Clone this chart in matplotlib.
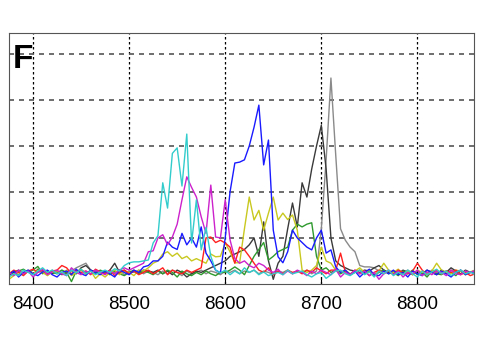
import numpy as np
import matplotlib
matplotlib.use('Agg')
import matplotlib.pyplot as plt

plt.rcParams['font.family'] = ['Liberation Sans', 'DejaVu Sans']

# eje x: paso de 5 unidades (8375 .. 8860)
x = np.arange(8375, 8861, 5)

cian = [0.15, 0.22, 0.18, 0.30, 0.25, 0.20, 0.28, 0.35, 0.25, 0.30,
        0.22, 0.26, 0.18, 0.30, 0.24, 0.32, 0.22, 0.28, 0.20, 0.26,
        0.30, 0.25, 0.33, 0.28, 0.40, 0.46, 0.48, 0.48, 0.50, 0.52,
        0.89, 1.05, 2.20, 1.65, 2.84, 2.96, 2.13, 3.26, 0.89, 1.83,
        0.74, 1.23, 0.60, 0.30, 0.24, 0.30, 0.20, 0.28, 0.22, 0.35,
        0.25, 0.30, 0.20, 0.26, 0.18, 0.22, 0.25, 0.20, 0.30, 0.22,
        0.25, 0.28, 0.20, 0.15, 0.22, 0.25, 0.12, 0.20, 0.28, 0.30,
        0.22, 0.18, 0.25, 0.30, 0.20, 0.26, 0.15, 0.28, 0.22, 0.30,
        0.18, 0.25, 0.20, 0.30, 0.22, 0.15, 0.28, 0.20, 0.26, 0.32,
        0.22, 0.28, 0.18, 0.25, 0.30, 0.22, 0.26, 0.20]

magenta = [0.25, 0.18, 0.30, 0.22, 0.28, 0.15, 0.25, 0.32, 0.20, 0.26,
           0.30, 0.22, 0.18, 0.35, 0.25, 0.20, 0.28, 0.22, 0.30, 0.25,
           0.20, 0.28, 0.22, 0.30, 0.35, 0.30, 0.35, 0.40, 0.45, 0.70,
           0.72, 1.00, 1.07, 0.85, 1.02, 1.30, 1.83, 2.33, 2.10, 1.89,
           1.46, 1.10, 2.15, 1.02, 1.00, 1.83, 0.96, 0.55, 0.45, 0.50,
           0.40, 0.35, 0.45, 0.40, 0.30, 0.25, 0.32, 0.20, 0.28, 0.22,
           0.30, 0.25, 0.18, 0.28, 0.22, 0.30, 0.25, 0.20, 0.32, 0.15,
           0.25, 0.20, 0.30, 0.22, 0.28, 0.18, 0.25, 0.10, 0.22, 0.30,
           0.20, 0.28, 0.15, 0.25, 0.22, 0.30, 0.18, 0.26, 0.20, 0.28,
           0.25, 0.18, 0.30, 0.22, 0.20, 0.28, 0.24, 0.30]

azul = [0.20, 0.28, 0.15, 0.25, 0.30, 0.22, 0.18, 0.26, 0.30, 0.20,
        0.15, 0.25, 0.28, 0.20, 0.32, 0.22, 0.18, 0.30, 0.25, 0.20,
        0.28, 0.22, 0.15, 0.30, 0.25, 0.20, 0.30, 0.25, 0.37, 0.40,
        0.50, 0.50, 0.60, 0.91, 0.80, 0.75, 1.10, 0.85, 1.00, 0.80,
        1.24, 0.67, 0.50, 0.30, 0.24, 1.00, 2.00, 2.63, 2.65, 2.70,
        3.00, 3.41, 3.89, 2.59, 3.13, 1.17, 0.59, 0.46, 0.70, 1.17,
        1.00, 0.90, 0.80, 0.74, 1.00, 1.17, 0.67, 0.74, 0.37, 0.25,
        0.30, 0.20, 0.28, 0.15, 0.25, 0.32, 0.20, 0.18, 0.28, 0.22,
        0.30, 0.20, 0.25, 0.15, 0.28, 0.22, 0.18, 0.30, 0.25, 0.20,
        0.28, 0.22, 0.15, 0.25, 0.30, 0.20, 0.26, 0.22]

amarillo = [0.10, 0.18, 0.25, 0.20, 0.28, 0.22, 0.30, 0.25, 0.18, 0.26,
            0.28, 0.22, 0.30, 0.18, 0.25, 0.32, 0.20, 0.28, 0.12, 0.22,
            0.15, 0.25, 0.30, 0.20, 0.28, 0.25, 0.18, 0.30, 0.28, 0.35,
            0.45, 0.50, 0.65, 0.70, 0.60, 0.67, 0.55, 0.60, 0.50, 0.55,
            0.50, 0.45, 0.65, 0.59, 0.60, 0.89, 0.70, 0.46, 0.46, 1.20,
            1.89, 1.39, 1.60, 1.17, 1.54, 1.89, 1.39, 1.54, 1.40, 1.50,
            1.17, 0.30, 0.25, 0.30, 0.40, 0.80, 0.50, 0.45, 0.30, 0.25,
            0.30, 0.22, 0.28, 0.35, 0.25, 0.30, 0.20, 0.28, 0.45, 0.30,
            0.25, 0.32, 0.22, 0.28, 0.20, 0.30, 0.25, 0.22, 0.28, 0.45,
            0.30, 0.25, 0.22, 0.30, 0.28, 0.20, 0.26, 0.30]

rojo = [0.22, 0.30, 0.25, 0.18, 0.28, 0.32, 0.25, 0.30, 0.22, 0.28,
        0.30, 0.40, 0.35, 0.22, 0.30, 0.25, 0.28, 0.20, 0.32, 0.26,
        0.22, 0.30, 0.18, 0.25, 0.30, 0.22, 0.28, 0.20, 0.25, 0.30,
        0.22, 0.28, 0.35, 0.20, 0.30, 0.25, 0.22, 0.30, 0.25, 0.30,
        0.35, 1.00, 1.02, 0.90, 0.95, 0.89, 0.80, 0.45, 0.80, 0.74,
        0.60, 0.45, 0.30, 0.25, 0.35, 0.20, 0.28, 0.22, 0.30, 0.25,
        0.28, 0.22, 0.30, 0.25, 0.35, 0.28, 0.22, 0.30, 0.30, 0.67,
        0.25, 0.20, 0.30, 0.22, 0.28, 0.18, 0.25, 0.30, 0.22, 0.28,
        0.20, 0.30, 0.25, 0.22, 0.28, 0.45, 0.30, 0.20, 0.25, 0.30,
        0.22, 0.28, 0.25, 0.30, 0.20, 0.25, 0.18, 0.22]

verde = [0.25, 0.20, 0.28, 0.32, 0.25, 0.30, 0.38, 0.22, 0.28, 0.25,
         0.22, 0.30, 0.25, 0.05, 0.28, 0.30, 0.25, 0.28, 0.22, 0.30,
         0.25, 0.20, 0.28, 0.22, 0.18, 0.25, 0.30, 0.22, 0.28, 0.25,
         0.20, 0.28, 0.22, 0.30, 0.25, 0.15, 0.28, 0.22, 0.18, 0.25,
         0.20, 0.28, 0.22, 0.18, 0.25, 0.25, 0.30, 0.37, 0.30, 0.20,
         0.40, 0.60, 0.75, 0.90, 0.52, 0.60, 0.70, 0.75, 0.80, 1.17,
         1.30, 1.24, 1.30, 1.33, 0.60, 0.30, 0.35, 0.25, 0.30, 0.22,
         0.28, 0.20, 0.25, 0.30, 0.22, 0.28, 0.18, 0.25, 0.30, 0.22,
         0.25, 0.18, 0.28, 0.22, 0.30, 0.20, 0.25, 0.15, 0.28, 0.22,
         0.20, 0.28, 0.25, 0.18, 0.30, 0.22, 0.25, 0.28]

negro = [0.18, 0.25, 0.30, 0.22, 0.28, 0.20, 0.32, 0.25, 0.28, 0.22,
         0.28, 0.20, 0.25, 0.30, 0.22, 0.35, 0.40, 0.30, 0.25, 0.28,
         0.22, 0.30, 0.45, 0.25, 0.30, 0.22, 0.28, 0.25, 0.30, 0.28,
         0.25, 0.30, 0.22, 0.28, 0.20, 0.30, 0.25, 0.15, 0.22, 0.28,
         0.25, 0.30, 0.35, 0.40, 0.45, 0.50, 0.60, 0.65, 0.70, 0.75,
         0.85, 1.00, 0.60, 1.35, 0.50, 0.10, 0.45, 0.60, 1.20, 1.76,
         1.24, 2.20, 1.89, 2.50, 3.00, 3.45, 2.50, 1.00, 0.50, 0.40,
         0.35, 0.30, 0.28, 0.25, 0.30, 0.28, 0.35, 0.40, 0.30, 0.25,
         0.28, 0.22, 0.30, 0.25, 0.20, 0.28, 0.22, 0.30, 0.25, 0.20,
         0.30, 0.25, 0.35, 0.28, 0.22, 0.30, 0.25, 0.28]

gris = [0.22, 0.28, 0.20, 0.25, 0.30, 0.22, 0.28, 0.25, 0.20, 0.30,
        0.25, 0.30, 0.22, 0.28, 0.35, 0.40, 0.45, 0.30, 0.25, 0.28,
        0.22, 0.28, 0.25, 0.30, 0.20, 0.28, 0.25, 0.30, 0.22, 0.28,
        0.25, 0.20, 0.28, 0.22, 0.30, 0.25, 0.18, 0.28, 0.22, 0.25,
        0.30, 0.22, 0.28, 0.25, 0.20, 0.28, 0.25, 0.30, 0.22, 0.28,
        0.25, 0.30, 0.22, 0.28, 0.25, 0.20, 0.28, 0.25, 0.30, 0.22,
        0.28, 0.25, 0.30, 0.22, 0.28, 1.20, 2.70, 4.48, 2.80, 1.20,
        0.95, 0.80, 0.70, 0.40, 0.37, 0.37, 0.35, 0.28, 0.30, 0.25,
        0.22, 0.28, 0.25, 0.30, 0.22, 0.28, 0.25, 0.20, 0.30, 0.25,
        0.28, 0.22, 0.30, 0.25, 0.28, 0.20, 0.25, 0.30]

series = [(gris, '#8a8a8a'), (negro, '#3a3a3a'), (verde, '#2e9a2e'),
          (amarillo, '#c8c820'), (rojo, '#ff2020'), (azul, '#1a1aff'),
          (magenta, '#cc22cc'), (cian, '#33cccc')]

fig = plt.figure(figsize=(4.81, 3.40), dpi=100)
ax = fig.add_axes([0.0187, 0.165, 0.967, 0.738])

for vals, col in series:
    ax.plot(x, vals, color=col, linewidth=1.0)

ax.set_xlim(8375, 8859)
ax.set_ylim(0, 5.46)
ax.set_xticks([8400, 8500, 8600, 8700, 8800])
ax.set_yticks([1, 2, 3, 4, 5])
ax.set_yticklabels([])
ax.tick_params(axis='x', direction='in', length=4, pad=9, labelsize=13.5)
ax.tick_params(axis='y', length=0)

# rejilla punteada
ax.xaxis.grid(True, color='black', linestyle=(0, (2, 2)), linewidth=0.9)
ax.yaxis.grid(True, color='#555555', linestyle=(0, (3, 3)), linewidth=1.2)
ax.set_axisbelow(True)

for s in ax.spines.values():
    s.set_color('#555555')

ax.text(0.008, 0.955, 'F', transform=ax.transAxes, fontsize=24,
        fontweight='bold', ha='left', va='top')

plt.savefig('out.png', dpi=100)
